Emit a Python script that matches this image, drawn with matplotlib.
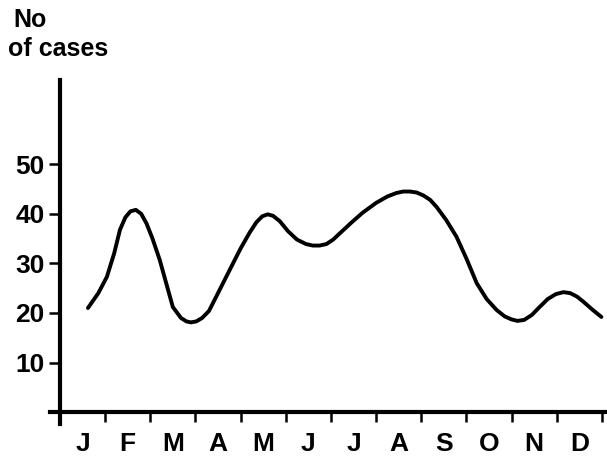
import matplotlib
matplotlib.use("Agg")
import matplotlib.pyplot as plt

# Data (x in months from start of Jan, y = number of cases)
month_labels = ["J", "F", "M", "A", "M", "J", "J", "A", "S", "O", "N", "D"]
y_ticks = [10, 20, 30, 40, 50]
curve_x = [0.62, 0.85, 1.04, 1.20, 1.33, 1.45, 1.56, 1.68, 1.80, 1.92, 2.05, 2.21, 2.50, 2.68, 2.80, 2.90,
           3.02, 3.15, 3.30, 3.50, 3.76, 4.00, 4.20, 4.35, 4.48, 4.60, 4.72, 4.87, 5.05, 5.25, 5.45, 5.60, 5.75,
           5.90, 6.05, 6.19, 6.45, 6.70, 7.00, 7.25, 7.45, 7.60, 7.75, 7.90, 8.05, 8.20, 8.34, 8.55, 8.78, 9.00,
           9.23, 9.45, 9.67, 9.85, 10.00, 10.13, 10.28, 10.45, 10.60, 10.80, 10.98, 11.15, 11.30, 11.45, 11.60, 11.80, 11.99]
curve_y = [21.0, 24.0, 27.3, 32.0, 36.8, 39.3, 40.5, 40.8, 40.0, 38.0, 35.0, 30.7, 21.2, 19.0, 18.3, 18.1,
           18.3, 19.0, 20.4, 24.0, 28.7, 33.0, 36.2, 38.3, 39.5, 39.9, 39.6, 38.5, 36.5, 34.8, 33.9, 33.6, 33.6,
           33.9, 34.8, 36.0, 38.2, 40.2, 42.2, 43.5, 44.2, 44.5, 44.5, 44.3, 43.7, 42.8, 41.4, 38.8, 35.4, 31.0,
           26.0, 22.8, 20.6, 19.3, 18.7, 18.4, 18.6, 19.6, 21.0, 22.8, 23.8, 24.2, 24.0, 23.3, 22.2, 20.6, 19.2]

plt.rcParams['font.family'] = ['Liberation Sans', 'DejaVu Sans']

fig = plt.figure(figsize=(6.07, 4.59), dpi=100)
ax = fig.add_axes([50 / 607, (459 - 424) / 459, 555 / 607, (424 - 80) / 459])

ax.plot(curve_x, curve_y, color="black", lw=2.8, solid_capstyle="round", solid_joinstyle="round")

ax.set_xlim(-0.22, 12.07)
ax.set_ylim(-2.4, 67)

for s in ["top", "right"]:
    ax.spines[s].set_visible(False)
ax.spines["left"].set_position(("data", 0))
ax.spines["bottom"].set_position(("data", 0))
ax.spines["left"].set_linewidth(3.0)
ax.spines["bottom"].set_linewidth(3.0)

ax.set_yticks(y_ticks)
ax.set_yticklabels([str(v) for v in y_ticks], fontsize=19, fontweight="bold")
ax.tick_params(axis="y", direction="out", length=8, width=1.8, pad=3)

ax.set_xticks(range(13))
ax.set_xticklabels([""] * 13)
ax.tick_params(axis="x", which="major", direction="out", length=7.5, width=1.8)
ax.set_xticks([i + 0.5 for i in range(12)], minor=True)
ax.set_xticklabels(month_labels, minor=True, fontsize=19, fontweight="bold")
ax.tick_params(axis="x", which="minor", length=0, pad=14)

fig.text(13 / 607, 1 - 8 / 459, "No", fontsize=18, fontweight="bold", va="top", ha="left")
fig.text(8 / 607, 1 - 37 / 459, "of cases", fontsize=18, fontweight="bold", va="top", ha="left")

fig.savefig("out.png", dpi=100)
